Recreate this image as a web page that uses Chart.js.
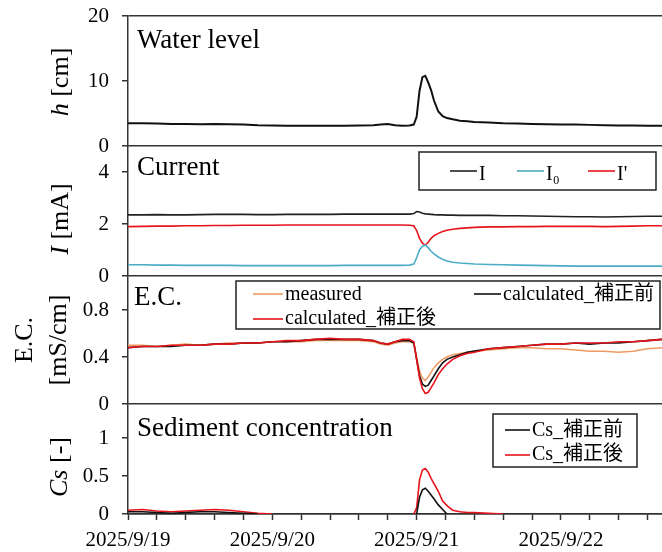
<!DOCTYPE html>
<html><head><meta charset="utf-8">
<script src="https://cdn.jsdelivr.net/npm/chart.js@4.4.1/dist/chart.umd.min.js"></script>
<style>html,body{margin:0;padding:0;background:#fff;}canvas{display:block;}</style>
</head><body>
<canvas id="c" width="662" height="552"></canvas>
<script>
// time in days since 2025/9/19 00:00
const time = [0,0.1,0.2,0.3,0.4,0.5,0.6,0.7,0.8,0.9,1.0,1.1,1.2,1.3,1.4,1.5,1.6,1.7,
  1.75,1.8,1.85,1.9,1.95,1.98,
  2.0,2.02,2.04,2.06,2.08,2.1,2.12,
  2.15,2.18,2.21,2.25,2.3,2.35,2.4,
  2.5,2.6,2.7,2.8,2.9,3.0,3.1,3.2,3.3,3.4,3.5,3.6,3.7];
const xTickLabels = ['2025/9/19','2025/9/20','2025/9/21','2025/9/22'];

const waterLevel = [3.5,3.5,3.45,3.4,3.4,3.35,3.4,3.35,3.3,3.2,3.15,3.1,3.1,3.1,3.1,3.1,3.15,3.2,
  3.3,3.4,3.2,3.1,3.15,3.3,
  4.5,8.5,10.6,10.8,9.8,8.6,7.0,
  5.3,4.6,4.3,4.1,3.9,3.8,3.7,
  3.6,3.5,3.45,3.4,3.35,3.3,3.3,3.25,3.2,3.15,3.15,3.1,3.1];

const curI = [2.35,2.35,2.36,2.35,2.35,2.36,2.37,2.37,2.37,2.36,2.36,2.37,2.37,2.37,2.37,2.38,2.38,2.38,
  2.38,2.38,2.38,2.38,2.38,2.40,
  2.48,2.46,2.41,2.39,2.38,2.37,2.36,
  2.35,2.35,2.34,2.34,2.33,2.33,2.33,
  2.33,2.32,2.32,2.31,2.30,2.29,2.28,2.28,2.27,2.28,2.29,2.30,2.30];
const curI0 = [0.43,0.43,0.42,0.42,0.41,0.41,0.41,0.41,0.40,0.40,0.40,0.40,0.40,0.40,0.40,0.41,0.41,0.41,
  0.41,0.41,0.41,0.41,0.42,0.46,
  0.70,1.00,1.14,1.19,1.09,0.95,0.85,
  0.73,0.64,0.58,0.53,0.50,0.48,0.46,
  0.44,0.43,0.42,0.41,0.40,0.39,0.38,0.38,0.38,0.38,0.38,0.38,0.38];
const curIp = [1.90,1.91,1.92,1.92,1.93,1.93,1.94,1.94,1.95,1.95,1.95,1.96,1.96,1.96,1.96,1.96,1.96,1.96,
  1.96,1.96,1.96,1.96,1.95,1.93,
  1.75,1.45,1.26,1.19,1.30,1.45,1.55,
  1.64,1.71,1.76,1.80,1.83,1.85,1.87,
  1.89,1.89,1.90,1.90,1.91,1.91,1.91,1.91,1.90,1.91,1.92,1.93,1.93];

const ecMeasured = [0.50,0.50,0.49,0.50,0.51,0.50,0.51,0.52,0.52,0.52,0.53,0.53,0.53,0.54,0.54,0.54,0.54,0.53,
  0.51,0.50,0.52,0.53,0.53,0.52,
  0.40,0.28,0.22,0.20,0.23,0.27,0.31,
  0.35,0.38,0.40,0.42,0.43,0.44,0.45,
  0.46,0.47,0.48,0.48,0.47,0.47,0.46,0.45,0.45,0.44,0.45,0.47,0.48];
const ecCalcBefore = [0.48,0.49,0.49,0.49,0.50,0.50,0.51,0.51,0.52,0.52,0.53,0.53,0.54,0.55,0.55,0.55,0.55,0.54,
  0.52,0.51,0.53,0.54,0.54,0.52,
  0.38,0.24,0.17,0.15,0.16,0.20,0.24,
  0.30,0.35,0.38,0.40,0.42,0.44,0.45,
  0.47,0.48,0.49,0.50,0.51,0.51,0.52,0.51,0.52,0.52,0.53,0.54,0.55];
const ecCalcAfter = [0.48,0.49,0.49,0.50,0.50,0.50,0.51,0.51,0.52,0.52,0.53,0.54,0.54,0.55,0.56,0.55,0.55,0.54,
  0.52,0.51,0.53,0.55,0.55,0.53,
  0.38,0.22,0.13,0.09,0.10,0.14,0.18,
  0.25,0.30,0.34,0.38,0.41,0.43,0.44,
  0.47,0.48,0.49,0.50,0.51,0.51,0.52,0.52,0.52,0.53,0.53,0.54,0.55];

// null = below axis (not visible)
const csBefore = [0.03,0.03,0.02,0.01,0.02,0.03,0.03,0.02,0.01,0,null,null,null,null,null,null,null,null,
  null,null,null,null,null,null,
  0,0.22,0.32,0.34,0.30,0.25,0.20,
  0.12,0.06,0,null,null,null,null,
  null,null,null,null,null,null,null,null,null,null,null,null,null];
const csAfter = [0.05,0.06,0.04,0.03,0.04,0.05,0.06,0.05,0.03,0.01,0,null,null,null,null,null,null,null,
  null,null,null,null,null,0,
  0.08,0.45,0.58,0.60,0.55,0.47,0.40,
  0.30,0.17,0.11,0.05,0.03,0.02,0.02,
  0.01,0,null,null,null,null,null,null,null,null,null,null,null];

const hTicks = [0,10,20];
const iTicks = [0,2,4];
const ecTicks = [0,0.4,0.8];
const csTicks = [0,0.5,1];
const panelTitles = ['Water level','Current','E.C.','Sediment concentration'];

const SERIF = '"Liberation Serif", "Times New Roman", "Noto Sans CJK JP", serif';
const AX = '#333';
const COL = {black:'#111111', blue:'#4BACC6', red:'#E8141C', orange:'#EE9A62'};

function pts(vals){ return vals.map((v,i)=>({x:time[i], y:v})); }

function yScale(min, max, ticks, weight, topLine){
  return {
    type:'linear', position:'left', stack:'panels', stackWeight:weight, min:min, max:max,
    afterBuildTicks: s => { s.ticks = ticks.map(v=>({value:v})); },
    afterFit: s => { s.width = 128; s.paddingTop = 0; s.paddingBottom = 0; },
    ticks:{ font:{family:SERIF, size:21}, color:'#000', padding:13, callback: v => String(v) },
    grid:{ drawOnChartArea:true, drawTicks:true, tickLength:6, lineWidth:1.5, tickWidth:1.5, tickColor:AX,
      color: c => (c.tick && (c.tick.value===0 || (topLine && c.tick.value===max))) ? AX : 'rgba(0,0,0,0)' },
    border:{ display:true, color:AX, width:1.5 }
  };
}

function ds(label, vals, axis, color, order, width){
  return {label:label, data:pts(vals), yAxisID:axis, xAxisID:'x', borderColor:color, backgroundColor:color,
    borderWidth:width||1.6, pointRadius:0, tension:0, fill:false, spanGaps:false, order:order};
}

function rotText(ctx, segs, x, yc, size){
  ctx.save();
  ctx.translate(x, yc);
  ctx.rotate(-Math.PI/2);
  let total = 0;
  segs.forEach(s => { ctx.font = (s.it?'italic ':'') + size + 'px ' + SERIF; s.w = ctx.measureText(s.t).width; total += s.w; });
  let px = -total/2;
  ctx.textBaseline = 'alphabetic'; ctx.textAlign = 'left';
  segs.forEach(s => { ctx.font = (s.it?'italic ':'') + size + 'px ' + SERIF; ctx.fillText(s.t, px, 0); px += s.w; });
  ctx.restore();
}

function legendBox(ctx, x1, y1, x2, y2){
  ctx.fillStyle = '#fff'; ctx.fillRect(x1, y1, x2-x1, y2-y1);
  ctx.strokeStyle = '#222'; ctx.lineWidth = 1.5; ctx.strokeRect(x1, y1, x2-x1, y2-y1);
}
function legendItem(ctx, ds, lx1, lx2, ly, baseline){
  ctx.strokeStyle = ds.borderColor; ctx.lineWidth = 1.6;
  ctx.beginPath(); ctx.moveTo(lx1, ly); ctx.lineTo(lx2, ly); ctx.stroke();
  ctx.fillStyle = '#000'; ctx.font = '20px ' + SERIF; ctx.textAlign='left'; ctx.textBaseline='alphabetic';
  ctx.fillText(ds.label, lx2 + 2, baseline);
}

const textPlugin = {
  id:'texts',
  afterDraw(chart){
    const ctx = chart.ctx, s = chart.scales, L = chart.chartArea.left, D = chart.data.datasets;
    ctx.save();
    ctx.fillStyle = '#000'; ctx.textAlign='left'; ctx.textBaseline='alphabetic';
    ctx.font = '27px ' + SERIF;
    ctx.fillText(panelTitles[0], L + 9, s.yH.top + 32);
    ctx.fillText(panelTitles[1], L + 9, s.yI.top + 29);
    ctx.fillText(panelTitles[2], L + 6, s.yE.top + 29);
    ctx.fillText(panelTitles[3], L + 9, s.yC.top + 32);
    // axis titles
    rotText(ctx, [{t:'h', it:true},{t:' [cm]'}], 68, (s.yH.top + s.yH.bottom)/2 + 1, 26);
    rotText(ctx, [{t:'I', it:true},{t:' [mA]'}], 68, (s.yI.top + s.yI.bottom)/2 + 8, 26);
    rotText(ctx, [{t:'E.C.'}], 32, (s.yE.top + s.yE.bottom)/2, 26);
    rotText(ctx, [{t:'[mS/cm]'}], 66, (s.yE.top + s.yE.bottom)/2, 26);
    rotText(ctx, [{t:'Cs', it:true},{t:' [-]'}], 67, (s.yC.top + s.yC.bottom)/2 + 8, 26);
    // legend: current
    legendBox(ctx, 419, 152, 656, 190);
    legendItem(ctx, D[1], 450, 477, 171, 180);
    legendItem(ctx, D[2], 517, 544, 171, 180);
    legendItem(ctx, D[3], 588, 615, 171, 180);
    // legend: EC
    legendBox(ctx, 236, 281, 660, 329);
    legendItem(ctx, D[4], 253, 283, 294, 300);
    legendItem(ctx, D[5], 474, 501, 294, 300);
    legendItem(ctx, D[6], 253, 283, 319, 324);
    // legend: Cs
    legendBox(ctx, 493, 414, 637, 467);
    legendItem(ctx, D[7], 505, 530, 430, 436);
    legendItem(ctx, D[8], 505, 530, 455, 460);
    ctx.restore();
  }
};

new Chart(document.getElementById('c'), {
  type:'line',
  data:{ datasets:[
    ds('h', waterLevel, 'yH', COL.black, 0, 2),
    ds('I', curI, 'yI', '#222222', 0, 1.6),
    ds('I\u2080', curI0, 'yI', COL.blue, 1, 1.6),
    ds("I'", curIp, 'yI', COL.red, 2, 1.6),
    ds('measured', ecMeasured, 'yE', COL.orange, 3, 1.5),
    ds('calculated_補正前', ecCalcBefore, 'yE', COL.black, 2, 1.6),
    ds('calculated_補正後', ecCalcAfter, 'yE', COL.red, 1, 1.6),
    ds('Cs_補正前', csBefore, 'yC', COL.black, 0, 1.6),
    ds('Cs_補正後', csAfter, 'yC', COL.red, 1, 1.6)
  ]},
  options:{
    responsive:false, animation:false, devicePixelRatio:1,
    layout:{ padding:{top:16, left:0, right:0, bottom:0} },
    plugins:{ legend:{display:false}, tooltip:{enabled:false} },
    scales:{
      x:{ type:'linear', position:'bottom', min:0, max:3.7,
        afterBuildTicks: s => { const t=[]; for(let i=0;i<=18;i++) t.push({value:i/5}); s.ticks=t; },
        afterFit: s => { s.height = 38; s.paddingLeft = 0; s.paddingRight = 0; },
        ticks:{ autoSkip:false, maxRotation:0, font:{family:SERIF, size:21}, color:'#000', padding:8,
          callback: v => { const r = Math.round(v); return Math.abs(v-r) < 1e-6 ? (xTickLabels[r] || '') : ''; } },
        grid:{ drawOnChartArea:false, drawTicks:true, tickLength:6, tickColor:AX, tickWidth:1.5 },
        border:{ display:true, color:AX, width:1.5 } },
      yC: yScale(0, 1.45, csTicks, 110, false),
      yE: yScale(0, 1.09, ecTicks, 128, false),
      yI: yScale(0, 5, iTicks, 130, false),
      yH: yScale(0, 20, hTicks, 130, true)
    }
  },
  plugins:[textPlugin]
});
</script>
</body></html>
